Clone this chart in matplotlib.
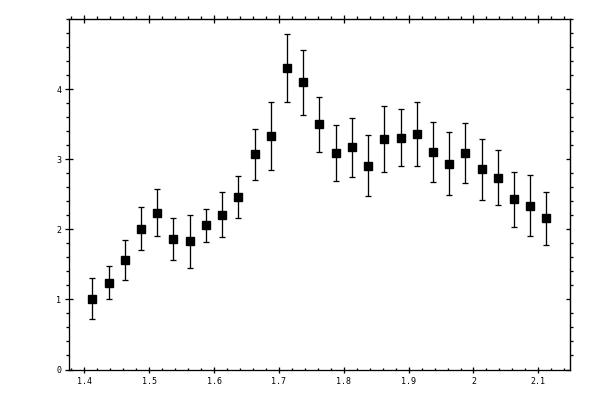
import matplotlib
matplotlib.use("Agg")
import matplotlib.pyplot as plt
from matplotlib.ticker import MultipleLocator, FixedLocator

x_vals = [1.4125, 1.4375, 1.4625, 1.4875, 1.5125, 1.5375, 1.5625, 1.5875, 1.6125, 1.6375,
          1.6625, 1.6875, 1.7125, 1.7375, 1.7625, 1.7875, 1.8125, 1.8375, 1.8625, 1.8875,
          1.9125, 1.9375, 1.9625, 1.9875, 2.0125, 2.0375, 2.0625, 2.0875, 2.1125]
y_vals = [1.01, 1.24, 1.56, 2.01, 2.24, 1.86, 1.83, 2.06, 2.21, 2.46,
          3.07, 3.34, 4.30, 4.10, 3.50, 3.09, 3.17, 2.91, 3.29, 3.31,
          3.36, 3.10, 2.94, 3.09, 2.86, 2.74, 2.43, 2.34, 2.16]
y_err = [0.29, 0.235, 0.285, 0.305, 0.34, 0.30, 0.38, 0.235, 0.32, 0.30,
         0.36, 0.485, 0.485, 0.46, 0.39, 0.40, 0.42, 0.44, 0.47, 0.41,
         0.46, 0.43, 0.45, 0.43, 0.435, 0.39, 0.39, 0.43, 0.38]
x_ticks = [1.4, 1.5, 1.6, 1.7, 1.8, 1.9, 2.0, 2.1]
x_tick_labels = ["1.4", "1.5", "1.6", "1.7", "1.8", "1.9", "2", "2.1"]
y_ticks = [0, 1, 2, 3, 4]
y_tick_labels = ["0", "1", "2", "3", "4"]

px = 0.72  # one pixel in points at dpi 100

fig = plt.figure(figsize=(6, 4), dpi=100)
ax = fig.add_axes([69.3 / 600, 1 - 369.5 / 400, (570 - 69.3) / 600, (369.5 - 19) / 400])

ax.errorbar(x_vals, y_vals, yerr=y_err, fmt='s', color='black', ecolor='black',
            markersize=5.2, elinewidth=1 * px * 1.3, capsize=1.9, capthick=1 * px * 1.3)

ax.set_xlim(1.3769, 2.1488)
ax.set_ylim(0, 5.004)

for s in ax.spines.values():
    s.set_linewidth(1.3 * px)

font = dict(family='DejaVu Sans Mono', size=6)
ax.set_xticks(x_ticks)
ax.set_xticklabels(x_tick_labels, **font)
ax.set_yticks(y_ticks)
ax.set_yticklabels(y_tick_labels, **font)
ax.xaxis.set_minor_locator(MultipleLocator(0.02))
ax.yaxis.set_minor_locator(MultipleLocator(0.2))

ax.tick_params(axis='x', which='major', direction='inout', length=6 * px, width=1.3 * px, pad=3)
ax.tick_params(axis='x', which='minor', direction='in', length=2.5 * px, width=1.3 * px)
ax.tick_params(axis='y', which='major', direction='inout', length=8 * px, width=1.3 * px, pad=3)
ax.tick_params(axis='y', which='minor', direction='out', length=3 * px, width=1.3 * px)

top = ax.secondary_xaxis('top')
top.set_xticks(x_ticks)
top.set_xticklabels([])
top.xaxis.set_minor_locator(MultipleLocator(0.02))
top.tick_params(which='major', direction='inout', length=8 * px, width=1.3 * px)
top.tick_params(which='minor', direction='out', length=3.5 * px, width=1.3 * px)

right = ax.secondary_yaxis('right')
right.set_yticks(y_ticks)
right.set_yticklabels([])
right.yaxis.set_minor_locator(MultipleLocator(0.2))
right.tick_params(which='major', direction='in', length=4.5 * px, width=1.3 * px)
right.tick_params(which='minor', direction='out', length=3 * px, width=1.3 * px)

fig.savefig('out.png', dpi=100, facecolor='white')
